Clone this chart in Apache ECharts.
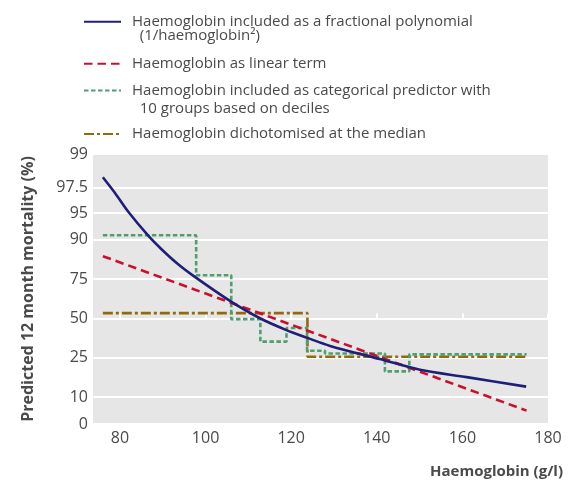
<!DOCTYPE html>
<html><head><meta charset="utf-8">
<script src="https://cdn.jsdelivr.net/npm/echarts@6/dist/echarts.min.js"></script>
<style>html,body{margin:0;padding:0;background:#fff}#c{width:580px;height:483px}</style>
</head><body><div id="c"></div>
<script>
// Fractional polynomial curve
const hbFP   = [76, 78.8, 81.9, 86.6, 89.7, 93.6, 97.5, 105.7, 112.7, 118.9, 123.6, 129.1, 140.7, 150.1, 161, 174.9];
const mortFP = [98.1, 97.1, 95.2, 91.0, 87.4, 82.0, 76.2, 62.1, 50.2, 42.0, 37.0, 31.8, 24.4, 19.3, 16.3, 13.0];
// Linear term
const hbLin   = [76, 122.1, 175];
const mortLin = [85.1, 43.5, 7.1];
// Categorical predictor (segment start points, last = end)
const hbCat   = [76, 97.8, 106.0, 112.8, 118.9, 123.7, 127.9, 141.9, 147.6, 175];
const mortCat = [91.1, 77.0, 49.6, 34.4, 43.4, 28.9, 27.4, 18.6, 26.9, 26.9];
// Dichotomised at median
const hbDich   = [76, 123.8, 175];
const mortDich = [53.8, 25.6, 25.6];
// Axis ticks
const yTickPct    = [5, 10, 25, 50, 75, 90, 95, 97.5, 99];
const yTickLabels = ['0', '10', '25', '50', '75', '90', '95', '97.5', '99'];
const xTicks = [80, 100, 120, 140, 160, 180];

const names = [
  'Haemoglobin included as a fractional polynomial\n  (1/haemoglobin\u00B2)',
  'Haemoglobin as linear term',
  'Haemoglobin included as categorical predictor with\n  10 groups based on deciles',
  'Haemoglobin dichotomised at the median'
];

const logit = p => Math.log((p / 100) / (1 - p / 100));
const pairs = (xs, ys) => xs.map((x, i) => [x, logit(ys[i])]);
const yTickVals = yTickPct.map(logit);

const txt = '#4a4a4a';
const FONT = '"Open Sans", sans-serif';

function mkLegend(name, center, lh) {
  const two = name.indexOf('\n') >= 0;
  return {
    left: 83, top: two ? center - 1.5 * lh : center - lh / 2, padding: 0, orient: 'vertical',
    itemWidth: 37, itemHeight: 14,
    data: [name],
    selectedMode: false,
    formatter: n => (n.indexOf('\n') >= 0 ? '\n' + n : n),
    itemStyle: {color: 'transparent', borderWidth: 0, opacity: 0},
    textStyle: {color: txt, fontFamily: FONT, fontSize: 15, lineHeight: lh, padding: [0, 0, 0, 6]}
  };
}

const chart = echarts.init(document.getElementById('c'), null, {renderer: 'canvas'});
chart.setOption({
  animation: false,
  title: {
    text: 'Haemoglobin (g/l)', right: 17, top: 464, padding: 0,
    textStyle: {color: txt, fontFamily: FONT, fontSize: 15, fontWeight: 'bold'}
  },
  grid: {left: 93, right: 32, top: 154, bottom: 59, show: true, backgroundColor: '#e6e6e6', borderWidth: 0},
  legend: [
    mkLegend(names[0], 21.5, 14.4),
    mkLegend(names[1], 63.8, 18),
    mkLegend(names[2], 90.5, 18.6),
    mkLegend(names[3], 134, 18)
  ],
  xAxis: {
    type: 'value', min: 73.7, max: 180,
    axisLine: {show: false},
    axisTick: {show: true, inside: true, length: 5, customValues: xTicks, lineStyle: {color: '#ffffff', width: 2}},
    axisLabel: {customValues: xTicks, color: txt, fontFamily: FONT, fontSize: 16, margin: 6},
    splitLine: {show: false}
  },
  yAxis: {
    type: 'value', min: logit(5), max: logit(99),
    axisLine: {show: false},
    axisTick: {show: false, customValues: yTickVals},
    axisLabel: {
      customValues: yTickVals, color: txt, fontFamily: FONT, fontSize: 16, margin: 5,
      formatter: v => {
        let best = 0, bd = 1e9;
        yTickVals.forEach((t, i) => { const d = Math.abs(t - v); if (d < bd) { bd = d; best = i; } });
        return yTickLabels[best];
      }
    },
    splitLine: {show: true, lineStyle: {color: '#ffffff', width: 2}},
    name: 'Predicted 12 month mortality (%)', nameLocation: 'middle', nameGap: 57,
    nameTextStyle: {color: txt, fontFamily: FONT, fontSize: 16, fontWeight: 'bold'}
  },
  series: [
    {name: names[0], type: 'line', data: pairs(hbFP, mortFP), smooth: 0.3, symbol: 'none',
     lineStyle: {color: '#1f1f78', width: 2.6, type: 'solid'}, itemStyle: {color: '#1f1f78'}, z: 5},
    {name: names[1], type: 'line', data: pairs(hbLin, mortLin), symbol: 'none',
     lineStyle: {color: '#c8102e', width: 2.6, type: [8.5, 5]}, itemStyle: {color: '#c8102e'}, z: 4},
    {name: names[2], type: 'line', data: pairs(hbCat, mortCat), step: 'end', symbol: 'none',
     lineStyle: {color: '#4f9f6e', width: 2.6, type: [4.5, 2.5]}, itemStyle: {color: '#4f9f6e'}, z: 3},
    {name: names[3], type: 'line', data: pairs(hbDich, mortDich), step: 'end', symbol: 'none',
     lineStyle: {color: '#94680c', width: 2.6, type: [10, 3, 3, 3]}, itemStyle: {color: '#94680c'}, z: 2}
  ]
});
</script></body></html>
